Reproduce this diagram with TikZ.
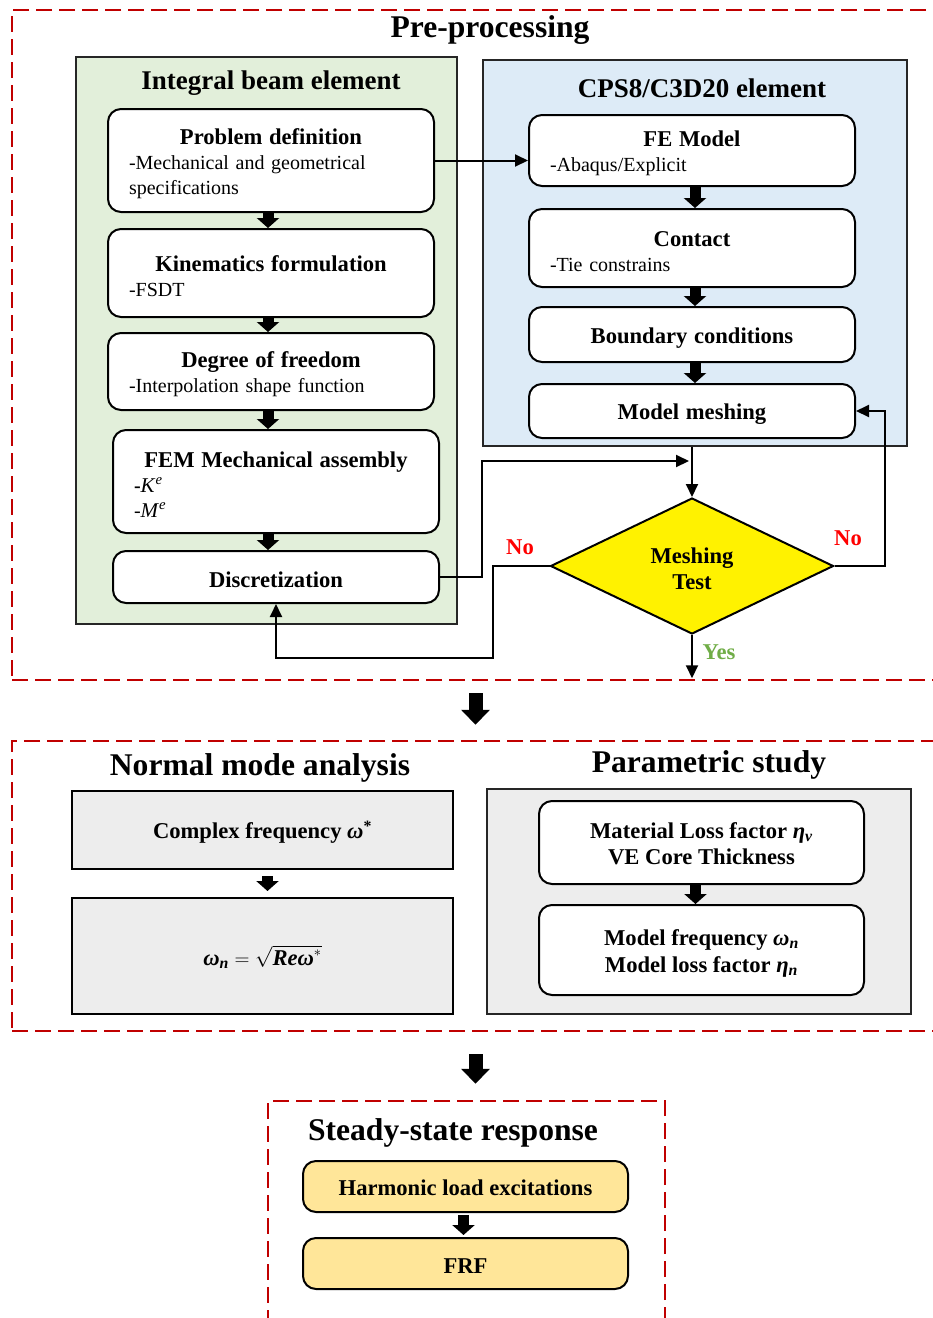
\documentclass[tikz,border=0pt]{standalone}
\usepackage{amsmath,amssymb}
\usepackage{fontspec}
\setmainfont{Liberation Serif}
\usepackage{xcolor}
\usepackage{tikz}
\usetikzlibrary{shapes.geometric,arrows.meta,positioning,calc}
\definecolor{fm_red}{RGB}{192, 0, 0}
\definecolor{fm_green}{RGB}{226, 239, 218}
\definecolor{fm_blue}{RGB}{221, 235, 247}
\definecolor{fm_gray}{RGB}{237, 237, 237}
\definecolor{fm_gold}{RGB}{255, 230, 153}
\definecolor{fm_yes}{RGB}{112, 173, 71}
\newcommand{\tstrut}{\rule{0pt}{22pt}}
\newcommand{\hd}[1]{{\fontsize{22.6}{25}\selectfont\bfseries\tstrut #1}}
\newcommand{\desc}[1]{\makebox[\linewidth][l]{#1}}
\newcommand{\gk}[1]{\textit{#1}}

\begin{document}
\begin{tikzpicture}[
  x=1pt,y=-1pt,
  font=\fontsize{20}{25}\selectfont,
  dashbox/.style={draw=fm_red,line width=2.5pt,dash pattern=on 16pt off 7pt,inner sep=0pt},
  panel/.style={draw=black!85,line width=2.5pt,inner sep=0pt},
  rbox/.style={draw,fill=white,line width=2pt,rounded corners=13pt,
               align=center,inner xsep=21pt,inner ysep=0pt},
  gbox/.style={draw,fill=fm_gray,line width=2pt,inner sep=0pt,align=center,
               font=\fontsize{22.6}{27}\selectfont\bfseries},
  sectitle/.style={font=\fontsize{31.6}{34}\selectfont\bfseries},
  ptitle/.style={font=\fontsize{27}{30}\selectfont\bfseries},
  arr/.style={-{Triangle[width=12pt,length=13pt]},line width=2pt},
  blk/.style={-{Triangle[width=22pt,length=10pt]},line width=11pt},
  bigarr/.style={-{Triangle[width=28pt,length=15pt]},line width=14pt},
  answer/.style={font=\fontsize{22.6}{25}\selectfont\bfseries}
]
\useasboundingbox (0,0) rectangle (933,1318);

% dashed sections
\node[dashbox,minimum width=927pt,minimum height=670pt] (pre) at (475.5,345) {};
\node[dashbox,minimum width=927pt,minimum height=290pt] (nma) at (475.5,886) {};
\node[dashbox,minimum width=397pt,minimum height=239pt] (ssr) at (466.5,1220.5) {};
\node[sectitle] at (490,30) {Pre-processing};
\node[sectitle] at (260,768) {Normal mode analysis};
\node[sectitle] at (709,765) {Parametric study};
\node[sectitle] at (453,1133) {Steady-state response};

% pre-processing panels
\node[panel,fill=fm_green,minimum width=381pt,minimum height=567pt] (beam) at (266.5,340.5) {};
\node[ptitle] at (271,83) {Integral beam element};
\node[panel,fill=fm_blue,minimum width=424pt,minimum height=386pt] (cps) at (695,253) {};
\node[ptitle] at (702,88) {CPS8/C3D20 element};

\node[rbox,text width=284pt,minimum height=103pt] (pd) at (271,160.5)
  {\hd{Problem definition}\\\desc{-Mechanical and geometrical}\\\desc{specifications}};
\node[rbox,text width=284pt,minimum height=88pt] (kf) at (271,273)
  {\hd{Kinematics formulation}\\\desc{-FSDT}};
\node[rbox,text width=284pt,minimum height=77pt] (dof) at (271,371.5)
  {\hd{Degree of freedom}\\\desc{-Interpolation shape function}};
\node[rbox,text width=284pt,minimum height=103pt] (fem) at (276,481.5)
  {\hd{FEM Mechanical assembly}\\
   \desc{\textbf{-}{\fontsize{21}{25}\selectfont\textit{K}\textsuperscript{\textit{e}}}}\\
   \desc{-{\fontsize{21}{25}\selectfont\textit{M}\textsuperscript{\textit{e}}}}};
\node[rbox,text width=284pt,minimum height=52pt] (disc) at (276,577)
  {\hd{Discretization}};

\node[rbox,text width=284pt,minimum height=71pt] (fe) at (692,150.5)
  {\hd{FE Model}\\\desc{-Abaqus/Explicit}};
\node[rbox,text width=284pt,minimum height=78pt] (ct) at (692,248)
  {\hd{Contact}\\\desc{-Tie constrains}};
\node[rbox,text width=284pt,minimum height=55pt] (bc) at (692,334.5)
  {\hd{Boundary conditions}};
\node[rbox,text width=284pt,minimum height=54pt] (mm) at (692,411)
  {\hd{Model meshing}};

\node[diamond,draw,fill=yellow,line width=2pt,aspect=2,inner sep=0pt,
      minimum width=283pt,minimum height=136pt,align=center,
      font=\fontsize{22.6}{26}\selectfont\bfseries] (mt) at (692,566) {\tstrut Meshing\\Test};
\coordinate (jn) at (692,461);

\draw[blk] ([xshift=-3pt]pd.south) -- ([xshift=-3pt]kf.north);
\draw[blk] ([xshift=-3pt]kf.south) -- ([xshift=-3pt]dof.north);
\draw[blk] ([xshift=-3pt]dof.south) -- ([xshift=-3pt]dof.south |- fem.north);
\draw[blk] ([xshift=-8pt]fem.south) -- ([xshift=-8pt]disc.north);
\draw[blk] ([xshift=3pt]fe.south) -- ([xshift=3pt]ct.north);
\draw[blk] ([xshift=3pt]ct.south) -- ([xshift=3pt]bc.north);
\draw[blk] ([xshift=3pt]bc.south) -- ([xshift=3pt]mm.north);

\draw[arr] (pd.east) -- (pd.east -| fe.west);
\draw[arr] (cps.south -| mt.north) -- (mt.north);
\draw[arr,shorten >=3pt] (disc.east) -- ++(42,0) |- (jn);
\draw[arr] (mt.west) -- ++(-57,0) -- ++(0,92) -| (disc.south);
\draw[arr] (mt.east) -- ++(50,0) |- (mm.east);
\draw[arr,shorten >=3pt] (mt.south) -- (mt.south |- pre.south);
\node[answer,text=red] at (520,547) {No};
\node[answer,text=red] at (848,538) {No};
\node[answer,text=fm_yes] at (719,652) {Yes};

% normal mode analysis / parametric study
\node[gbox,minimum width=381pt,minimum height=78pt] (cf) at (262.5,830)
  {\tstrut Complex frequency \gk{ω}\textsuperscript{*}};
\node[gbox,minimum width=381pt,minimum height=116pt] (wn) at (262.5,956)
  {\tstrut\gk{ω}\textsubscript{\gk{n}} $=$ $\sqrt{\text{\gk{Reω}}^{*}}$};
\node[panel,fill=fm_gray,minimum width=424pt,minimum height=225pt] (par) at (699,901.5) {};
\node[rbox,minimum width=325pt,minimum height=83pt,
      font=\fontsize{22.6}{26}\selectfont\bfseries] (mlf) at (701.5,842.5)
  {\rule{0pt}{19pt}Material Loss factor \gk{η}\textsubscript{\gk{v}}\\VE Core Thickness};
\node[rbox,minimum width=325pt,minimum height=90pt,
      font=\fontsize{22.6}{27}\selectfont\bfseries] (mfq) at (701.5,950)
  {\tstrut Model frequency \gk{ω}\textsubscript{\gk{n}}\\Model loss factor \gk{η}\textsubscript{\gk{n}}};
\draw[blk,shorten <=6pt,shorten >=6pt] ([xshift=5pt]cf.south) -- ([xshift=5pt]wn.north);
\draw[blk] ([xshift=-6pt]mlf.south) -- ([xshift=-6pt]mfq.north);

% steady-state response
\node[rbox,fill=fm_gold,minimum width=325pt,minimum height=51pt,
      font=\fontsize{22.6}{25}\selectfont\bfseries] (hle) at (465.5,1186.5)
  {\rule{0pt}{19pt}Harmonic load excitations};
\node[rbox,fill=fm_gold,minimum width=325pt,minimum height=51pt,
      font=\fontsize{22.6}{25}\selectfont\bfseries] (frf) at (465.5,1263.5) {\rule{0pt}{19pt}FRF};
\draw[blk,shorten <=2pt,shorten >=2pt] ([xshift=-2pt]hle.south) -- ([xshift=-2pt]frf.north);

% flow between sections
\draw[bigarr,shorten <=12pt,shorten >=15pt] (pre.south) -- (nma.north);
\draw[bigarr,shorten <=22pt,shorten >=16pt] (nma.south) -- (nma.south |- ssr.north);
\end{tikzpicture}
\end{document}
